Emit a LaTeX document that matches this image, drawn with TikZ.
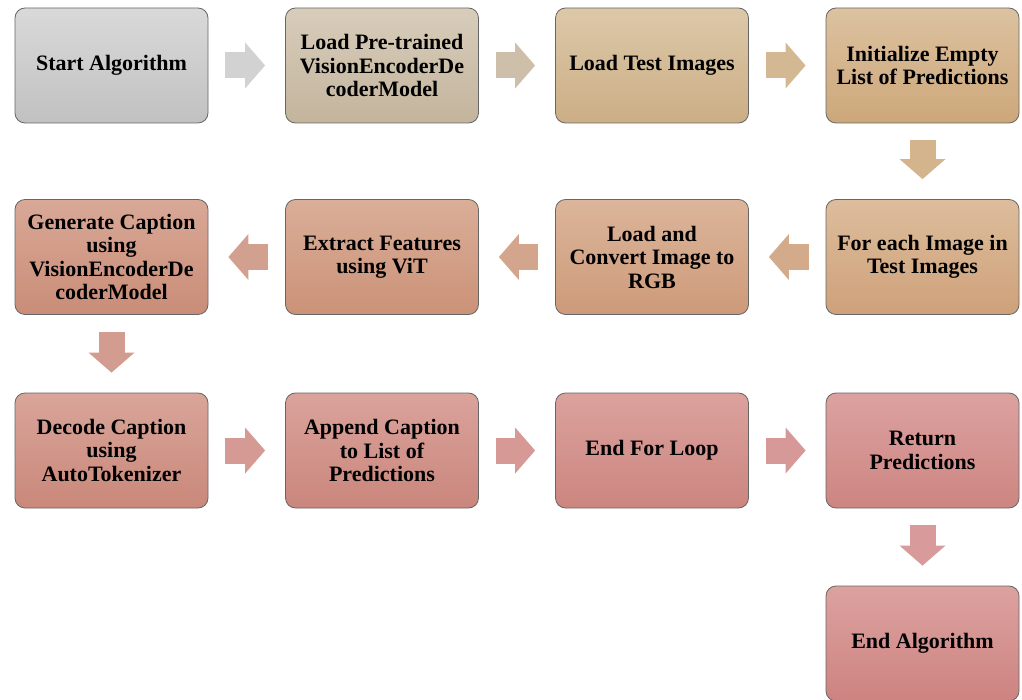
\documentclass[tikz,border=0pt]{standalone}
\usepackage{fontspec}
\setmainfont{Liberation Serif}
\usetikzlibrary{arrows.meta}
% box colours (top / bottom)
\definecolor{t1}{HTML}{D9D9D9}\definecolor{b1}{HTML}{C1C1C1}
\definecolor{t2}{HTML}{D8CDBB}\definecolor{b2}{HTML}{C3B49C}
\definecolor{t3}{HTML}{DCC8A8}\definecolor{b3}{HTML}{CCAE86}
\definecolor{t4}{HTML}{DCC2A0}\definecolor{b4}{HTML}{CDA77A}
\definecolor{t5}{HTML}{DDBD9C}\definecolor{b5}{HTML}{CEA17A}
\definecolor{t6}{HTML}{DCB59A}\definecolor{b6}{HTML}{CD9A7A}
\definecolor{t7}{HTML}{DAAE98}\definecolor{b7}{HTML}{CB9278}
\definecolor{t8}{HTML}{D9A897}\definecolor{b8}{HTML}{C98D78}
\definecolor{t9}{HTML}{D9A59A}\definecolor{b9}{HTML}{C9887A}
\definecolor{t10}{HTML}{DAA39C}\definecolor{b10}{HTML}{CA867C}
\definecolor{t11}{HTML}{DBA29E}\definecolor{b11}{HTML}{CC857F}
\definecolor{t12}{HTML}{DCA2A0}\definecolor{b12}{HTML}{CD8581}
\definecolor{t13}{HTML}{DCA2A0}\definecolor{b13}{HTML}{CD8380}
% arrow colours
\definecolor{a1}{HTML}{D2D2D2}
\definecolor{a2}{HTML}{CDBFA9}
\definecolor{a3}{HTML}{D4B894}
\definecolor{a4}{HTML}{D4B48C}
\definecolor{a5}{HTML}{D3AB8A}
\definecolor{a6}{HTML}{D3A58C}
\definecolor{a7}{HTML}{D2A08E}
\definecolor{a8}{HTML}{D39C90}
\definecolor{a9}{HTML}{D69A94}
\definecolor{a10}{HTML}{D69996}
\definecolor{a11}{HTML}{D79898}
\definecolor{a12}{HTML}{D89A9A}
\tikzset{
  box/.style={rectangle, rounded corners=10pt, minimum width=193pt,
    minimum height=115pt, inner sep=2pt, draw=black!60, line width=0.8pt,
    align=center, font=\bfseries\fontsize{22}{23.5}\selectfont, text=black},
  grad/.style 2 args={top color=#1, bottom color=#2},
  conn/.style={line width=26pt, shorten <=17pt, shorten >=20pt,
    -{Triangle[length=20pt,width=46pt,line width=0pt]}},
}
\begin{document}
\begin{tikzpicture}
\useasboundingbox (0pt,0pt) rectangle (1022pt,-700pt);
% row 1
\node[box, grad={t1}{b1}] (n1) at (111.5pt,-65.5pt) {Start Algorithm};
\node[box, grad={t2}{b2}] (n2) at (382pt,-65.5pt) {Load Pre-trained\\VisionEncoderDe\\coderModel};
\node[box, grad={t3}{b3}] (n3) at (652pt,-65.5pt) {Load Test Images};
\node[box, grad={t4}{b4}] (n4) at (922.5pt,-65.5pt) {Initialize Empty\\List of Predictions};
% row 2
\node[box, grad={t5}{b5}] (n5) at (922.5pt,-257pt) {For each Image in\\Test Images};
\node[box, grad={t6}{b6}] (n6) at (652pt,-257pt) {Load and\\Convert Image to\\RGB};
\node[box, grad={t7}{b7}] (n7) at (382pt,-257pt) {Extract Features\\using ViT};
\node[box, grad={t8}{b8}] (n8) at (111.5pt,-257pt) {Generate Caption\\using\\VisionEncoderDe\\coderModel};
% row 3
\node[box, grad={t9}{b9}] (n9) at (111.5pt,-450.5pt) {Decode Caption\\using\\AutoTokenizer};
\node[box, grad={t10}{b10}] (n10) at (382pt,-450.5pt) {Append Caption\\to List of\\Predictions};
\node[box, grad={t11}{b11}] (n11) at (652pt,-450.5pt) {End For Loop};
\node[box, grad={t12}{b12}] (n12) at (922.5pt,-450.5pt) {Return\\Predictions};
% row 4
\node[box, grad={t13}{b13}] (n13) at (922.5pt,-643.5pt) {End Algorithm};
% connectors
\draw[conn, a1] (n1) -- (n2);
\draw[conn, a2] (n2) -- (n3);
\draw[conn, a3] (n3) -- (n4);
\draw[conn, a4] (n4) -- (n5);
\draw[conn, a5] (n5) -- (n6);
\draw[conn, a6] (n6) -- (n7);
\draw[conn, a7] (n7) -- (n8);
\draw[conn, a8] (n8) -- (n9);
\draw[conn, a9] (n9) -- (n10);
\draw[conn, a10] (n10) -- (n11);
\draw[conn, a11] (n11) -- (n12);
\draw[conn, a12] (n12) -- (n13);
\end{tikzpicture}
\end{document}
